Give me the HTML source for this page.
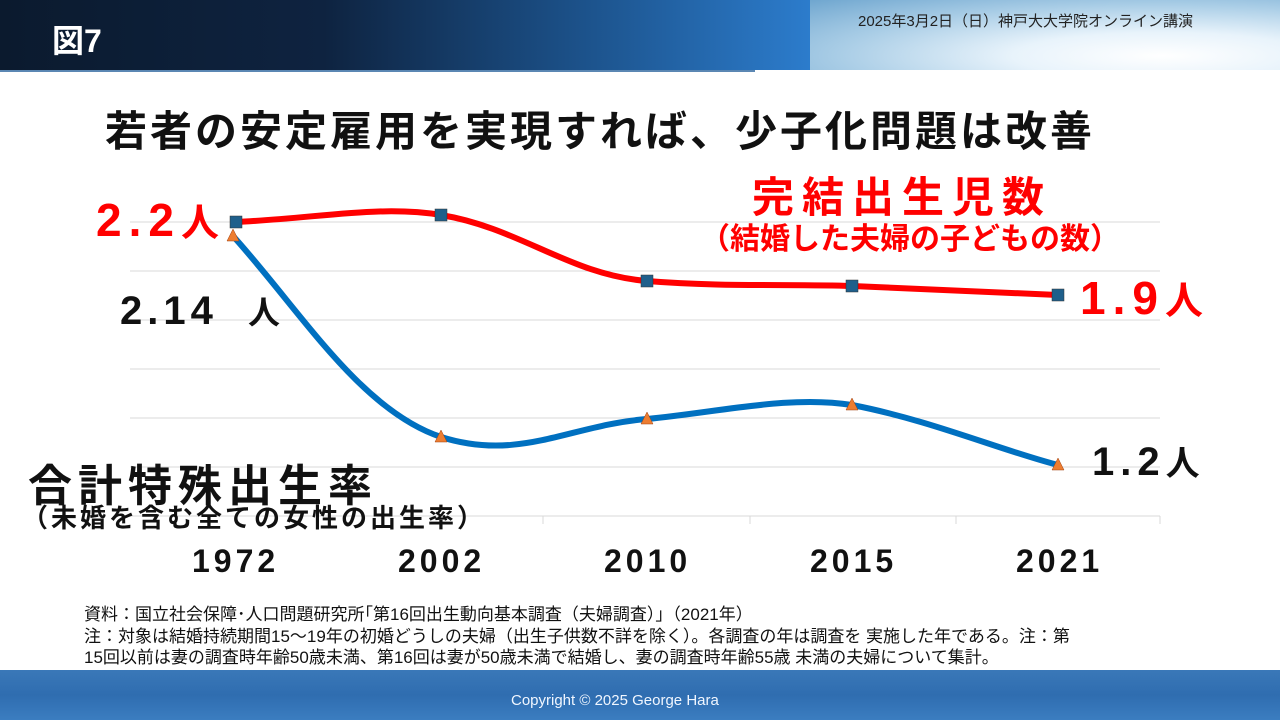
<!DOCTYPE html>
<html><head><meta charset="utf-8"><style>
body{margin:0;width:1280px;height:720px;overflow:hidden;background:#fff;font-family:"Liberation Sans","Noto Sans CJK JP",sans-serif;position:relative}
.hd{position:absolute;left:0;top:0;width:810px;height:70px;background:linear-gradient(90deg,#0b1a2e 0%,#0e2340 40%,#1b4f86 70%,#2c7ccc 100%)}
.hr{position:absolute;left:810px;top:0;width:470px;height:70px;background:radial-gradient(ellipse at 75% 80%,#ffffff 0%,#e8f3fb 30%,#a9cde6 65%,#6fa6cf 100%)}
.ln{position:absolute;left:0;top:70px;width:755px;height:2px;background:#5b87b3}
.t{position:absolute;white-space:nowrap}
.ft{position:absolute;left:0;top:670px;width:1280px;height:50px;background:linear-gradient(180deg,#3a78b8,#2f6db0 50%,#3b7dc0)}
</style></head><body>
<div class="hd"></div><div class="hr"></div><div class="ln"></div>
<div class="t" style="left:52px;top:16px;font-size:32px;font-weight:bold;color:#fff">図7</div>
<div class="t" style="left:858px;top:10px;font-size:15px;color:#222">2025年3月2日（日）神戸大大学院オンライン講演</div>
<div class="t" style="left:105px;top:98px;font-size:42px;letter-spacing:3px;font-weight:bold;color:#111">若者の安定雇用を実現すれば、少子化問題は改善</div>
<svg style="position:absolute;left:0;top:0" width="1280" height="720">
<g stroke="#d9d9d9" stroke-width="1">
<line x1="130" y1="222" x2="1160" y2="222"/><line x1="130" y1="271" x2="1160" y2="271"/><line x1="130" y1="320" x2="1160" y2="320"/><line x1="130" y1="369" x2="1160" y2="369"/><line x1="130" y1="418" x2="1160" y2="418"/><line x1="130" y1="467" x2="1160" y2="467"/><line x1="130" y1="516" x2="1160" y2="516"/>
<line x1="543" y1="516" x2="543" y2="524"/><line x1="750" y1="516" x2="750" y2="524"/><line x1="956" y1="516" x2="956" y2="524"/><line x1="1160" y1="516" x2="1160" y2="524"/>
</g>
<path d="M236,222 C320,218 380,205 441,215 C520,228 570,275 647,281 C720,287 790,284 852,286 C930,289 1000,292 1058,295" fill="none" stroke="#ff0000" stroke-width="6"/>
<path d="M233,236 C300,310 360,410 441,437 C520,462 570,425 647,419 C720,412 790,395 852,405 C930,420 1000,450 1058,465" fill="none" stroke="#0070c0" stroke-width="6"/>
<g fill="#1f5f8b" stroke="#333" stroke-width="0.5">
<rect x="230" y="216" width="12" height="12"/><rect x="435" y="209" width="12" height="12"/><rect x="641" y="275" width="12" height="12"/><rect x="846" y="280" width="12" height="12"/><rect x="1052" y="289" width="12" height="12"/></g>
<g fill="#ed7d31" stroke="#a04010" stroke-width="0.5">
<polygon points="233,229 239,241 227,241"/><polygon points="441,430 447,442 435,442"/><polygon points="647,412 653,424 641,424"/><polygon points="852,398 858,410 846,410"/><polygon points="1058,458 1064,470 1052,470"/></g>
</svg>
<div class="t" style="left:96px;top:192px;font-size:46px;letter-spacing:7px;font-weight:bold;color:#ff0000">2.2<span style="font-size:38px;letter-spacing:0">人</span></div>
<div class="t" style="left:1080px;top:270px;font-size:46px;letter-spacing:7px;font-weight:bold;color:#ff0000">1.9<span style="font-size:38px;letter-spacing:0">人</span></div>
<div class="t" style="left:752px;top:164px;font-size:42px;letter-spacing:8px;font-weight:bold;color:#ff0000">完結出生児数</div>
<div class="t" style="left:700px;top:214px;font-size:30px;font-weight:bold;color:#ff0000">（結婚した夫婦の子どもの数）</div>
<div class="t" style="left:120px;top:288px;font-size:40px;letter-spacing:5px;font-weight:bold;color:#111">2.14 <span style="font-size:32px;margin-left:14px;letter-spacing:0">人</span></div>
<div class="t" style="left:1092px;top:436px;font-size:40px;letter-spacing:6px;font-weight:bold;color:#111">1.2<span style="font-size:34px;letter-spacing:0">人</span></div>
<div class="t" style="left:28px;top:450px;font-size:44px;letter-spacing:6px;font-weight:bold;color:#111">合計特殊出生率</div>
<div class="t" style="left:22px;top:498px;font-size:26px;letter-spacing:3px;font-weight:bold;color:#111">（未婚を含む全ての女性の出生率）</div>
<div class="t" style="left:192px;top:543px;font-size:32px;letter-spacing:4px;font-weight:bold;color:#111">1972</div>
<div class="t" style="left:398px;top:543px;font-size:32px;letter-spacing:4px;font-weight:bold;color:#111">2002</div>
<div class="t" style="left:604px;top:543px;font-size:32px;letter-spacing:4px;font-weight:bold;color:#111">2010</div>
<div class="t" style="left:810px;top:543px;font-size:32px;letter-spacing:4px;font-weight:bold;color:#111">2015</div>
<div class="t" style="left:1016px;top:543px;font-size:32px;letter-spacing:4px;font-weight:bold;color:#111">2021</div>
<div class="t" style="left:84px;top:604px;font-size:17px;line-height:21.5px;color:#111">資料：国立社会保障･人口問題研究所｢第16回出生動向基本調査（夫婦調査）｣（2021年）<br>注：対象は結婚持続期間15～19年の初婚どうしの夫婦（出生子供数不詳を除く）。各調査の年は調査を 実施した年である。注：第<br>15回以前は妻の調査時年齢50歳未満、第16回は妻が50歳未満で結婚し、妻の調査時年齢55歳 未満の夫婦について集計。</div>
<div class="ft"></div>
<div class="t" style="left:511px;top:692px;font-size:15px;color:#f0f6ff">Copyright © 2025 George Hara</div>
</body></html>
